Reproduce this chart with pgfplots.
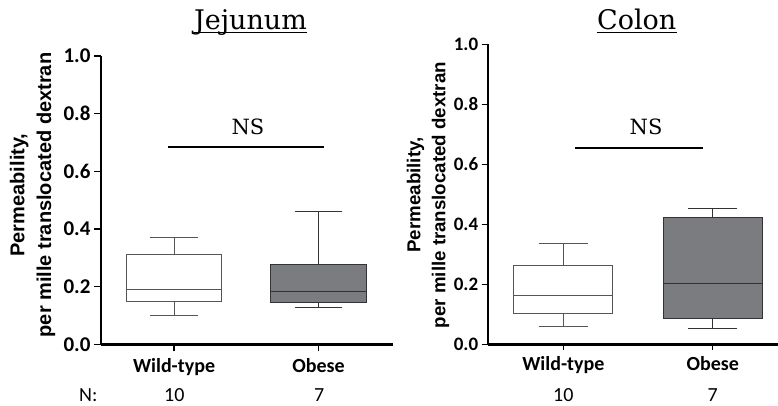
\documentclass[border=0pt]{standalone}
\usepackage{pgfplots}
\pgfplotsset{compat=1.18}
\usepgfplotslibrary{statistics}
\usepackage{fontspec}
\setmainfont{Carlito}
\newfontfamily\seriffont{DejaVu Serif}
\newfontfamily\arialfont{Liberation Sans}
\definecolor{obese}{HTML}{7B7C80}
\definecolor{edge}{HTML}{555555}
\pgfplotsset{
 panel/.style={
   scale only axis, anchor=south west,
   axis lines=left, axis line style={line width=2.4pt,-},
   ymin=0, ymax=1, ytick={0,0.2,0.4,0.6,0.8,1.0},
   xtick={1,2}, xticklabels={Wild-type,Obese},
   tick style={line width=1.5pt,black}, tick align=outside,
   /pgf/number format/.cd, fixed, fixed zerofill, precision=1, assume math mode=true, /pgfplots/.cd,
   xticklabel style={anchor=base},
   clip=false,
 },
 wt/.style={draw=edge, fill=white, line width=1pt},
 ob/.style={draw=black!80, fill=obese, line width=1pt},
}
\begin{document}
\begin{tikzpicture}
\path[use as bounding box] (0pt,0pt) rectangle (778pt,405pt);

\begin{axis}[panel, at={(101pt,60.7pt)}, width=292pt, height=288.3pt,
  xmin=0.4945, xmax=2.515, major tick length=7pt,
  yticklabel style={font=\bfseries\fontsize{21}{25}\selectfont},
  xticklabel style={font=\bfseries\fontsize{20}{24}\selectfont, yshift=-21pt}]
\addplot[wt, boxplot prepared={draw direction=y, draw position=1, lower whisker=0.101, lower quartile=0.148,
  median=0.191, upper quartile=0.313, upper whisker=0.369, box extend=0.662, whisker extend=0.33}]
  coordinates {};
\addplot[ob, boxplot prepared={draw direction=y, draw position=2, lower whisker=0.126, lower quartile=0.146,
  median=0.182, upper quartile=0.276, upper whisker=0.462, box extend=0.662, whisker extend=0.33}]
  coordinates {};
\addplot[black, line width=2.2pt] coordinates {(0.959,0.683) (2.039,0.683)};
\end{axis}

\begin{axis}[panel, at={(487.7pt,60.7pt)}, width=290.3pt, height=300pt,
  xmin=0.494, xmax=2.437, major tick length=6pt,
  yticklabel style={font=\bfseries\fontsize{19}{23}\selectfont},
  xticklabel style={font=\bfseries\fontsize{20}{24}\selectfont, yshift=-19.7pt}]
\addplot[wt, boxplot prepared={draw direction=y, draw position=1, lower whisker=0.060, lower quartile=0.103,
  median=0.163, upper quartile=0.264, upper whisker=0.335, box extend=0.663, whisker extend=0.33}]
  coordinates {};
\addplot[ob, boxplot prepared={draw direction=y, draw position=2, lower whisker=0.052, lower quartile=0.087,
  median=0.204, upper quartile=0.423, upper whisker=0.454, box extend=0.663, whisker extend=0.33}]
  coordinates {};
\addplot[black, line width=2.2pt] coordinates {(1.078,0.655) (1.933,0.655)};
\end{axis}

% titles
\node[anchor=base, inner sep=0pt, font=\seriffont\fontsize{27}{30}\selectfont] (t1) at (250.5pt,375.7pt) {Jejunum};
\draw[line width=1.4pt] ([yshift=-3.2pt]t1.base west) -- ([yshift=-3.2pt]t1.base east);
\node[anchor=base, inner sep=0pt, font=\seriffont\fontsize{27}{30}\selectfont] (t2) at (636.7pt,375.7pt) {Colon};
\draw[line width=1.4pt] ([yshift=-3.2pt]t2.base west) -- ([yshift=-3.2pt]t2.base east);
% NS
\node[anchor=base, inner sep=0pt, font=\seriffont\fontsize{21}{24}\selectfont] at (248pt,270pt) {NS};
\node[anchor=base, inner sep=0pt, font=\seriffont\fontsize{21}{24}\selectfont] at (646pt,271pt) {NS};
% y labels
\node[rotate=90, align=center, inner sep=0pt, font=\arialfont\bfseries\fontsize{20}{26.7}\selectfont] at (32.5pt,210pt) {Permeability,\\per mille translocated dextran};
\node[rotate=90, align=center, inner sep=0pt, font=\arialfont\bfseries\fontsize{18.7}{25}\selectfont] at (428pt,210pt) {Permeability,\\per mille translocated dextran};
% N
\node[anchor=base, inner sep=0pt, font=\fontsize{20}{24}\selectfont] at (88.3pt,4pt) {N:};
\node[anchor=base, inner sep=0pt, font=\fontsize{20}{24}\selectfont] at (174.3pt,4pt) {10};
\node[anchor=base, inner sep=0pt, font=\fontsize{20}{24}\selectfont] at (319.3pt,4pt) {7};
\node[anchor=base, inner sep=0pt, font=\fontsize{20}{24}\selectfont] at (563.3pt,4pt) {10};
\node[anchor=base, inner sep=0pt, font=\fontsize{20}{24}\selectfont] at (712.7pt,4pt) {7};
\end{tikzpicture}
\end{document}
